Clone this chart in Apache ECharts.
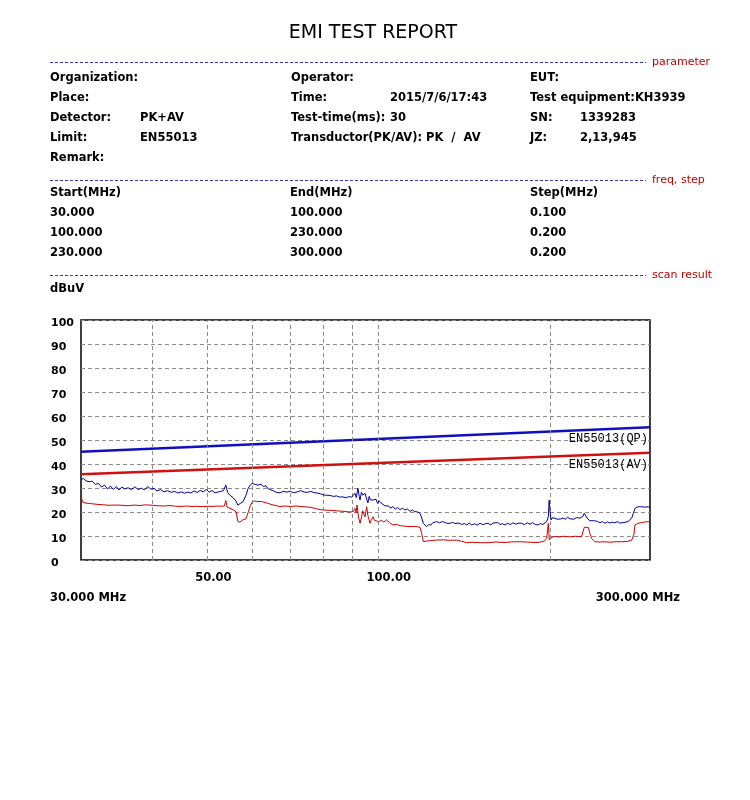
<!DOCTYPE html>
<html><head><meta charset="utf-8">
<script src="https://cdn.jsdelivr.net/npm/echarts@6/dist/echarts.min.js"></script>
<style>html,body{margin:0;padding:0;background:#fff}#c{width:750px;height:800px}</style>
</head><body><div id="c"></div>
<script>
// ---------- texts ----------
const reportTitle = 'EMI TEST REPORT';
const sectionNames = ['parameter', 'freq, step', 'scan result'];
const paramLeft = ['Organization:', 'Place:', 'Detector:', 'Limit:', 'Remark:'];
const paramLeftVal = ['', '', 'PK+AV', 'EN55013', ''];
const paramMid = ['Operator:', 'Time:', 'Test-time(ms):', 'Transductor(PK/AV): PK  /  AV', ''];
const paramMidVal = ['', '2015/7/6/17:43', '30', '', ''];
const paramRight = ['EUT:', 'Test equipment:KH3939', 'SN:', 'JZ:', ''];
const paramRightVal = ['', '', '1339283', '2,13,945', ''];
const freqHeader = ['Start(MHz)', 'End(MHz)', 'Step(MHz)'];
const freqStart = ['30.000', '100.000', '230.000'];
const freqEnd = ['100.000', '230.000', '300.000'];
const freqStep = ['0.100', '0.200', '0.200'];
const yUnit = 'dBuV';
const xTickFreqs = [50, 100];
const xTickLabels = ['50.00', '100.00'];
const xRangeLabels = ['30.000 MHz', '300.000 MHz'];
const gridFreqs = [40, 50, 60, 70, 80, 90, 100, 200];
const limitNames = ['EN55013(QP)', 'EN55013(AV)'];

// ---------- limits ----------
const qpLimitFreqs = [30, 300];
const qpLimitLevels = [45.1, 55.3];
const avLimitFreqs = [30, 300];
const avLimitLevels = [35.7, 44.7];

// ---------- PK trace (blue) ----------
const pkFreqs = [30.0,30.3,30.6,31.0,31.4,31.8,32.2,32.6,33.0,33.4,33.8,34.2,34.6,35.0,35.4,35.8,36.3,36.8,37.3,37.8,
38.3,38.8,39.3,39.8,40.3,40.8,41.4,42.0,42.6,43.2,43.8,44.4,45.0,45.6,46.2,46.8,47.4,48.0,48.6,49.2,
49.8,50.4,51.0,51.6,52.2,52.8,53.4,53.9,54.3,54.8,55.5,56.2,56.6,57.1,57.8,58.5,59.0,59.5,60.0,60.7,
61.4,62.2,62.7,63.4,63.9,64.7,65.4,66.1,67.1,68.0,69.0,70.0,71.0,72.0,73.0,74.0,75.0,76.0,77.0,78.0,
79.0,80.0,81.0,82.2,83.3,84.4,85.5,86.6,87.7,88.5,89.1,89.7,90.3,90.9,91.4,92.0,92.5,92.8,93.3,93.8,
94.3,94.7,95.3,95.8,96.3,96.8,97.3,97.8,98.4,99.0,99.6,100.2,101.0,101.8,102.6,103.3,104.2,105.0,106.0,107.0,
108.0,109.1,110.2,111.3,112.4,113.6,114.6,115.6,116.5,117.3,118.3,119.1,119.9,120.7,121.5,122.5,123.5,124.5,125.5,126.5,
128.0,129.5,131.0,132.5,133.6,135.0,136.2,137.2,138.5,140.0,141.5,142.9,144.3,145.8,147.5,149.0,150.8,152.5,154.0,155.8,
157.5,159.0,160.2,162.0,163.5,165.0,166.9,168.5,170.5,172.4,174.5,176.5,178.5,180.5,182.5,184.6,186.5,188.5,190.7,192.5,
194.5,196.0,197.5,198.8,199.5,200.2,201.0,202.0,203.0,204.2,206.0,207.5,209.0,211.0,213.0,215.0,216.8,218.5,220.5,222.5,
224.2,226.0,227.5,228.7,229.9,231.2,232.5,233.7,235.3,236.9,238.5,240.1,242.5,245.0,247.5,250.0,252.5,255.0,257.5,260.4,
263.0,265.5,267.5,270.0,272.0,274.4,276.5,278.6,280.5,282.3,284.0,285.8,288.0,290.1,292.0,294.0,296.0,298.0,300.0];
const pkLevels = [33.5,34.0,33.0,32.6,32.8,31.5,31.9,30.4,31.2,29.6,30.8,29.4,30.6,29.2,30.4,29.6,30.1,29.3,30.5,29.4,
29.9,29.2,30.6,29.5,29.8,28.8,29.3,28.4,28.9,28.2,28.6,27.9,28.4,27.8,28.3,27.9,28.8,28.1,29.0,28.4,
29.4,28.3,28.9,28.0,28.3,28.6,28.9,31.2,28.2,27.0,26.0,24.5,22.8,23.5,24.3,27.0,29.8,31.2,31.9,31.5,
31.2,31.6,30.6,30.9,29.8,29.2,28.8,28.2,28.0,28.6,28.3,28.6,28.0,28.4,28.9,28.3,28.2,28.6,28.1,27.9,
27.6,27.1,27.0,26.9,26.5,26.7,26.2,26.3,25.9,26.4,25.6,26.2,27.0,27.8,26.0,29.9,26.4,25.0,28.2,27.0,
26.2,27.8,25.4,23.8,26.5,25.0,24.4,25.0,24.3,25.3,23.6,24.7,23.8,24.4,22.6,21.8,22.5,21.6,22.3,21.2,
21.9,21.0,21.6,20.8,21.3,20.2,20.9,20.2,20.5,20.0,19.4,17.5,15.3,14.5,13.9,14.8,14.5,15.5,15.0,16.0,
15.5,16.0,15.6,15.2,15.3,15.7,15.2,16.0,15.4,14.8,15.2,14.6,15.4,14.6,15.1,14.5,15.3,14.7,15.1,15.3,
14.6,15.4,14.9,15.6,14.8,15.1,14.6,15.3,14.8,15.5,14.9,15.4,15.3,14.7,15.5,14.9,15.6,14.8,14.6,15.2,
14.8,15.4,16.0,18.0,25.0,20.0,16.7,17.6,16.9,17.4,17.0,17.8,17.1,17.5,17.0,17.8,17.2,17.4,17.0,17.6,
17.2,17.5,17.4,18.2,19.5,19.2,17.5,16.7,16.3,16.0,16.4,15.7,16.1,15.5,16.0,15.3,15.9,15.4,15.8,15.5,
16.0,15.4,15.9,15.6,16.1,16.0,16.4,17.4,19.5,21.5,21.0,22.2,21.5,22.2,21.4,22.0,21.6,22.2,21.8];

// ---------- AV trace (red) ----------
const avFreqs = [30.0,30.2,30.6,31.2,32.0,32.8,33.6,34.5,35.4,36.3,37.2,38.1,39.0,40.0,41.0,42.0,43.0,44.0,45.0,46.0,
47.0,48.0,49.0,50.0,51.0,52.0,53.0,53.6,53.9,54.2,54.8,55.5,56.2,56.6,57.1,57.8,58.5,59.0,59.5,60.0,
60.7,61.4,62.2,62.7,63.9,64.7,66.1,67.1,68.5,70.0,71.6,73.7,75.8,77.6,78.9,80.0,82.2,84.4,86.6,89.1,
90.3,90.9,91.3,91.7,92.2,92.8,93.3,93.8,94.3,94.7,95.3,95.8,96.6,97.2,97.8,98.4,99.0,100.0,101.2,102.2,
103.3,104.5,106.0,107.5,109.1,111.0,113.6,115.5,117.3,118.3,119.1,119.9,121.5,123.5,126.5,130.0,133.6,137.2,140.0,142.9,
146.0,150.8,155.8,160.2,166.9,172.4,178.5,184.6,190.7,193.5,196.0,197.5,198.8,199.6,201.0,202.8,205.0,208.0,211.0,215.0,
218.5,222.0,225.0,227.5,228.7,229.9,231.2,233.7,235.3,236.9,238.5,240.1,245.0,250.0,255.0,260.4,267.5,274.4,278.6,281.0,
282.3,285.0,290.1,295.0,300.0];
const avLevels = [26.5,24.2,23.7,23.5,23.2,23.0,22.8,22.9,22.8,22.6,22.9,22.7,23.0,22.8,22.6,22.5,22.7,22.4,22.3,22.5,
22.3,22.4,22.2,22.4,22.3,22.5,22.4,22.5,24.8,22.0,21.5,21.0,20.0,16.0,15.8,16.8,17.2,19.8,22.5,24.3,
24.6,24.3,24.4,24.0,23.6,23.2,22.6,22.3,22.5,22.3,22.5,22.2,22.0,21.4,21.0,20.8,20.7,20.5,20.3,20.0,
20.2,21.5,19.6,22.9,18.0,15.3,17.5,20.5,19.0,18.0,22.2,18.5,15.3,16.8,18.0,16.5,17.2,16.0,16.5,15.8,
16.7,15.6,14.6,14.9,14.3,14.1,13.9,14.0,13.8,13.6,11.0,7.6,7.9,8.1,8.3,8.4,8.2,8.3,7.8,7.2,
7.4,7.2,7.2,7.5,7.3,7.6,7.6,7.4,7.3,7.6,8.0,9.0,15.3,8.3,9.2,9.7,9.8,9.6,9.9,9.7,
9.7,9.9,9.7,9.7,10.2,13.6,13.7,13.6,11.0,9.0,8.2,7.6,7.5,7.6,7.4,7.6,7.6,7.8,8.3,10.5,
14.6,15.2,15.6,15.9,16.0];

// ---------- layout / style ----------
const FONT = '"DejaVu Sans", sans-serif';
const GRID = { left: 81, top: 320, width: 569, height: 240 };
const pairs = (xs, ys) => xs.map((x, i) => [x, ys[i]]);
function limitData(xs, ys, name) {
  const d = pairs(xs, ys);
  const last = d.length - 1;
  d[last] = {
    value: d[last],
    label: {
      show: true, formatter: name, position: 'bottom', distance: 6, align: 'right', offset: [-2, 0],
      fontFamily: '"Liberation Mono", "DejaVu Sans Mono", monospace', fontSize: 12, color: '#000'
    }
  };
  return d;
}

const chart = echarts.init(document.getElementById('c'), null, { renderer: 'canvas' });
chart.setOption({
  animation: false,
  backgroundColor: '#fff',
  grid: { left: GRID.left, top: GRID.top, width: GRID.width, height: GRID.height,
          show: true, borderColor: '#000', borderWidth: 1.5, backgroundColor: 'transparent' },
  xAxis: { type: 'log', logBase: 10, min: 30, max: 300,
           axisLine: { show: false }, axisTick: { show: false }, axisLabel: { show: false },
           splitLine: { show: false }, minorSplitLine: { show: false } },
  yAxis: { type: 'value', min: 0, max: 100, interval: 10,
           axisLine: { show: false }, axisTick: { show: false },
           axisLabel: { align: 'left', verticalAlign: 'middle', margin: 30,
                        formatter: '{v|{value}}',
                        rich: { v: { padding: [6, 0, 0, 0], fontFamily: FONT, fontWeight: 'bold', fontSize: 11, color: '#000' } },
                        fontFamily: FONT, fontWeight: 'bold', fontSize: 11, color: '#000' },
           splitLine: { show: true, lineStyle: { color: '#8a8a8a', type: [4, 3], width: 1 } } },
  series: [
    { type: 'line', data: [], z: 1, silent: true,
      markLine: { silent: true, animation: false, symbol: ['none', 'none'], label: { show: false },
                  lineStyle: { color: '#8a8a8a', type: [4, 3], width: 1 },
                  emphasis: { disabled: true },
                  data: gridFreqs.map(f => ({ xAxis: f })) } },
    { name: 'QP limit', type: 'line', z: 3, symbol: 'circle', symbolSize: 0, showSymbol: true, silent: true,
      itemStyle: { color: '#1010c0' },
      lineStyle: { color: '#1010c0', width: 2.6 }, data: limitData(qpLimitFreqs, qpLimitLevels, limitNames[0]) },
    { name: 'AV limit', type: 'line', z: 3, symbol: 'circle', symbolSize: 0, showSymbol: true, silent: true,
      itemStyle: { color: '#d01010' },
      lineStyle: { color: '#d01010', width: 2.6 }, data: limitData(avLimitFreqs, avLimitLevels, limitNames[1]) },
    { name: 'AV', type: 'line', z: 4, symbol: 'none', silent: true,
      lineStyle: { color: '#d00000', width: 1 }, data: pairs(avFreqs, avLevels) },
    { name: 'PK', type: 'line', z: 5, symbol: 'none', silent: true,
      lineStyle: { color: '#000099', width: 1 }, data: pairs(pkFreqs, pkLevels) }
  ]
});

// ---------- header / annotations (graphic) ----------
const els = [];
function txt(text, x, y, opts) {
  if (!text) return;
  els.push({ type: 'text', silent: true, style: Object.assign({
    text: text, x: x, y: y, font: 'bold 11.5px ' + FONT, fill: '#000',
    textAlign: 'left', textVerticalAlign: 'middle' }, opts || {}) });
}
txt(reportTitle, 373, 33, { font: 'normal 19px ' + FONT, textAlign: 'center' });
const sepY = [62.5, 180.5, 275.5];
sepY.forEach((y, i) => {
  els.push({ type: 'line', silent: true, shape: { x1: 50, y1: y, x2: 646, y2: y },
             style: { stroke: '#3333b0', lineWidth: 1, lineDash: [3, 2] } });
  txt(sectionNames[i], 652, y - 0.5, { font: 'normal 11px ' + FONT, fill: '#c00000' });
});
const rowY = [78, 98, 118, 138, 158];
rowY.forEach((y, i) => {
  txt(paramLeft[i], 50, y); txt(paramLeftVal[i], 140, y);
  txt(paramMid[i], 291, y); txt(paramMidVal[i], 390, y);
  txt(paramRight[i], 530, y); txt(paramRightVal[i], 580, y);
});
const colX = [50, 290, 530];
freqHeader.forEach((h, i) => txt(h, colX[i], 193));
const tRowY = [213, 233, 253];
tRowY.forEach((y, i) => { txt(freqStart[i], colX[0], y); txt(freqEnd[i], colX[1], y); txt(freqStep[i], colX[2], y); });
txt(yUnit, 50, 289);
xTickFreqs.forEach((f, i) => {
  const px = chart.convertToPixel({ xAxisIndex: 0 }, f);
  txt(xTickLabels[i], px - 12, 578);
});
txt(xRangeLabels[0], 50, 598);
txt(xRangeLabels[1], 680, 598, { textAlign: 'right' });
chart.setOption({ graphic: { elements: els } });
</script></body></html>
